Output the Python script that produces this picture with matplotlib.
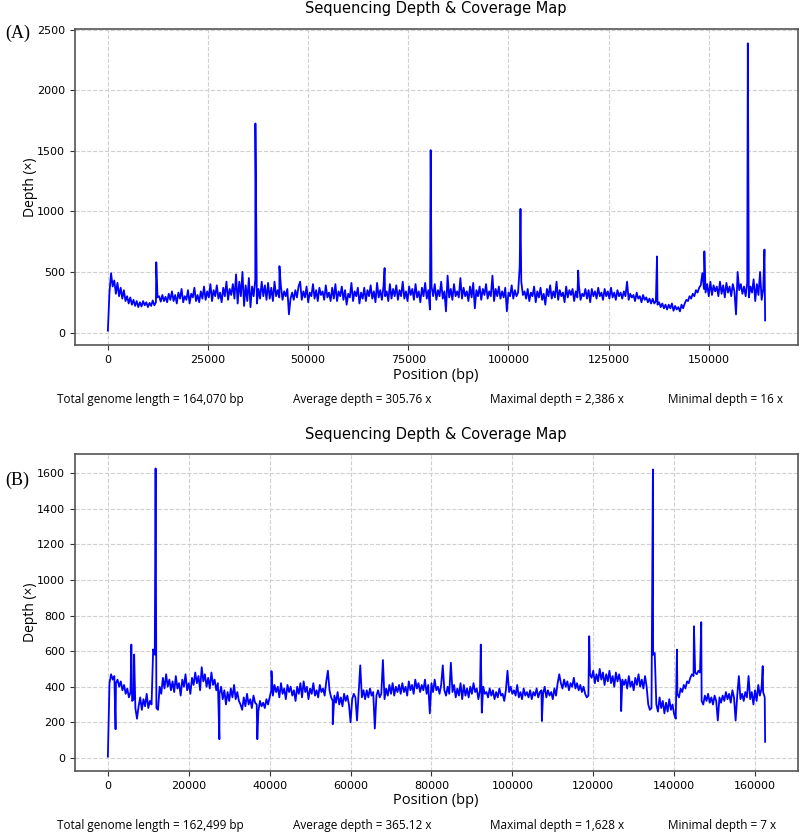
import numpy as np
import matplotlib.pyplot as plt
from matplotlib.ticker import MultipleLocator

# sample A: depth every 400 bp, one row per 8000 bp
a_rows = [
    [16, 330, 490, 380, 430, 320, 410, 300, 370, 280, 350, 260, 300, 240, 290, 230, 270, 220, 260, 210],
    [250, 215, 260, 225, 250, 210, 245, 220, 265, 225, 250, 290, 300, 255, 310, 260, 295, 250, 320, 270],
    [340, 260, 310, 240, 330, 280, 360, 250, 300, 270, 350, 240, 320, 290, 370, 260, 310, 250, 340, 280],
    [380, 270, 340, 290, 400, 260, 350, 300, 390, 280, 330, 250, 370, 300, 420, 270, 360, 310, 400, 280],
    [480, 240, 420, 300, 500, 220, 390, 260, 450, 210, 380, 300, 440, 240, 360, 280, 420, 300, 390, 270],
    [410, 280, 370, 260, 420, 300, 350, 290, 380, 270, 340, 300, 360, 150, 280, 330, 270, 350, 290, 380],
    [420, 270, 340, 290, 380, 250, 330, 300, 400, 280, 350, 260, 370, 310, 340, 270, 390, 290, 330, 260],
    [370, 280, 400, 260, 340, 300, 380, 270, 350, 230, 320, 290, 410, 260, 340, 300, 370, 240, 330, 280],
    [370, 260, 350, 300, 390, 280, 340, 250, 410, 290, 350, 270, 380, 300, 340, 260, 400, 280, 360, 300],
    [390, 270, 350, 300, 420, 280, 340, 260, 380, 310, 360, 270, 400, 290, 340, 250, 370, 300, 410, 280],
    [350, 190, 380, 300, 400, 270, 350, 300, 420, 280, 340, 175, 470, 290, 360, 270, 400, 300, 340, 290],
    [450, 280, 370, 300, 340, 260, 380, 290, 410, 200, 350, 300, 380, 270, 360, 310, 400, 280, 340, 300],
    [470, 260, 360, 300, 380, 280, 340, 290, 370, 175, 330, 300, 390, 280, 350, 300, 330, 540, 420, 310],
    [340, 280, 360, 260, 330, 300, 380, 250, 340, 290, 370, 270, 320, 230, 360, 300, 390, 280, 340, 290],
    [420, 270, 350, 300, 330, 250, 380, 290, 350, 310, 360, 260, 340, 290, 380, 270, 320, 300, 360, 280],
    [350, 250, 360, 300, 340, 280, 370, 300, 330, 270, 360, 300, 340, 280, 370, 290, 330, 270, 350, 300],
    [330, 280, 340, 300, 420, 270, 320, 290, 310, 260, 330, 280, 300, 250, 310, 270, 290, 250, 280, 240],
    [280, 240, 260, 230, 250, 210, 240, 200, 230, 190, 230, 200, 240, 180, 220, 190, 210, 175, 230, 200],
    [240, 270, 260, 300, 280, 320, 300, 350, 330, 370, 390, 490, 360, 330, 400, 300, 420, 310, 390, 340],
    [380, 300, 420, 320, 390, 290, 410, 330, 380, 300, 400, 340, 150, 500, 350, 400, 320, 380, 300, 410],
    [290, 380, 330, 440, 260, 400, 310, 500, 270, 360, 330],
]
a_spike_pos = [12080, 36830, 42830, 69080, 80580, 103000, 117400,
               137080, 148900, 159750, 163900, 164070]
a_spike_depth = [580, 1725, 548, 532, 1505, 1020, 512,
                 628, 670, 2386, 685, 100]

# sample B: depth every 400 bp, one row per 8000 bp
b_rows = [
    [7, 420, 470, 440, 460, 420, 440, 400, 430, 380, 410, 360, 390, 340, 370, 320, 330, 280, 220, 290],
    [340, 270, 330, 290, 360, 280, 320, 300, 610, 580, 280, 270, 400, 360, 450, 390, 470, 400, 440, 380],
    [430, 370, 460, 390, 420, 350, 440, 400, 470, 380, 420, 360, 450, 410, 480, 420, 460, 380, 510, 430],
    [470, 400, 450, 390, 480, 410, 440, 380, 420, 360, 400, 330, 380, 300, 370, 320, 390, 340, 410, 330],
    [370, 320, 300, 270, 340, 290, 360, 300, 330, 280, 350, 310, 300, 260, 320, 290, 310, 280, 330, 300],
    [340, 380, 350, 410, 370, 400, 340, 420, 360, 390, 330, 410, 370, 400, 350, 380, 320, 400, 360, 420],
    [340, 430, 370, 400, 330, 390, 360, 420, 350, 380, 340, 410, 370, 390, 350, 430, 490, 380, 340, 320],
    [350, 310, 370, 300, 340, 290, 360, 320, 350, 300, 200, 330, 360, 340, 210, 360, 520, 340, 380, 330],
    [380, 340, 390, 350, 370, 165, 350, 380, 340, 360, 550, 330, 390, 350, 410, 360, 420, 350, 400, 370],
    [410, 360, 420, 370, 400, 350, 430, 380, 410, 360, 440, 390, 420, 370, 410, 380, 440, 360, 410, 250],
    [420, 370, 440, 380, 400, 360, 410, 520, 380, 350, 400, 360, 535, 370, 410, 340, 390, 350, 420, 330],
    [410, 350, 390, 340, 400, 360, 420, 370, 390, 330, 380, 350, 400, 360, 370, 340, 390, 350, 380, 330],
    [370, 340, 390, 350, 360, 320, 380, 490, 370, 400, 360, 380, 350, 410, 340, 370, 330, 390, 350, 370],
    [340, 380, 330, 370, 350, 390, 340, 370, 380, 360, 400, 340, 380, 350, 370, 330, 390, 350, 420, 470],
    [420, 390, 440, 400, 430, 380, 420, 400, 450, 390, 420, 380, 410, 370, 400, 360, 340, 350, 470, 450],
    [490, 420, 470, 430, 500, 440, 480, 410, 470, 430, 490, 420, 460, 400, 480, 430, 470, 420, 440, 410],
    [440, 390, 460, 400, 430, 380, 450, 410, 470, 400, 440, 390, 460, 400, 300, 270, 280, 580, 590, 300],
    [260, 340, 280, 320, 250, 310, 260, 330, 270, 300, 245, 220, 360, 340, 390, 370, 410, 390, 430, 420],
    [450, 470, 460, 480, 470, 490, 480, 320, 300, 350, 320, 360, 310, 340, 300, 350, 320, 210, 340, 310],
    [350, 320, 370, 330, 360, 310, 380, 340, 210, 350, 460, 330, 360, 320, 370, 340, 460, 330, 370, 300],
    [380, 320, 410, 350, 390, 370, 340],
]
b_spike_pos = [1900, 5800, 6500, 11800, 27570, 36950, 40450, 55600,
               92200, 92450, 107300, 119000, 126900, 134750, 140700,
               144900, 146700, 161900, 162499]
b_spike_depth = [161, 637, 581, 1628, 105, 105, 488, 189,
                 637, 254, 207, 684, 263, 1622, 609,
                 740, 763, 516, 90]

a_stats = ["Total genome length = 164,070 bp", "Average depth = 305.76 x",
           "Maximal depth = 2,386 x", "Minimal depth = 16 x"]
b_stats = ["Total genome length = 162,499 bp", "Average depth = 365.12 x",
           "Maximal depth = 1,628 x", "Minimal depth = 7 x"]


def merge(rows, spos, sdepth, step=400, row_len=8000):
    pos, dep = [], []
    for k, row in enumerate(rows):
        pos += [k * row_len + j * step for j in range(len(row))]
        dep += row
    pos = np.array(pos + spos)
    dep = np.array(dep + sdepth)
    order = np.argsort(pos, kind="stable")
    return pos[order], dep[order]


W, H = 800, 833
fig = plt.figure(figsize=(8, 8.33), dpi=100)

panels = [
    ("(A)", a_rows, a_spike_pos, a_spike_depth, a_stats, 29, 345, 33, 25000, 500),
    ("(B)", b_rows, b_spike_pos, b_spike_depth, b_stats, 454, 771, 480, 20000, 200),
]

for tag, rows, spos, sdepth, stats, top, bot, tag_y, xmaj, ymaj in panels:
    ax = fig.add_axes([75 / W, 1 - bot / H, 723 / W, (bot - top) / H])
    x, y = merge(rows, spos, sdepth)
    ax.plot(x, y, color="#0000ff", lw=1.3)
    ax.xaxis.set_major_locator(MultipleLocator(xmaj))
    ax.yaxis.set_major_locator(MultipleLocator(ymaj))
    ax.grid(True, ls="--", color="#d0d0d0", lw=0.8)
    ax.tick_params(labelsize=8, color="#333333")
    for s in ax.spines.values():
        s.set_color("#555555")
        s.set_linewidth(1.2)

    fig.text(436 / W, 1 - (top - 20) / H, "Sequencing Depth & Coverage Map",
             ha="center", va="center", fontsize=10.5)
    fig.text(5 / W, 1 - tag_y / H, tag, ha="left", va="center",
             fontsize=13, family="Liberation Serif")
    fig.text(30 / W, 1 - (top + bot) / 2 / H, "Depth (×)", rotation=90,
             ha="center", va="center", fontsize=10, family="Open Sans")
    fig.text(436 / W, 1 - (bot + 30) / H, "Position (bp)", ha="center",
             va="center", fontsize=10.5, family="Open Sans")
    for xs, s in zip([57, 293, 490, 668], stats):
        fig.text(xs / W, 1 - (bot + 55) / H, s, ha="left", va="center",
                 fontsize=8.5, family="Open Sans")

fig.savefig("out.png", dpi=100)
